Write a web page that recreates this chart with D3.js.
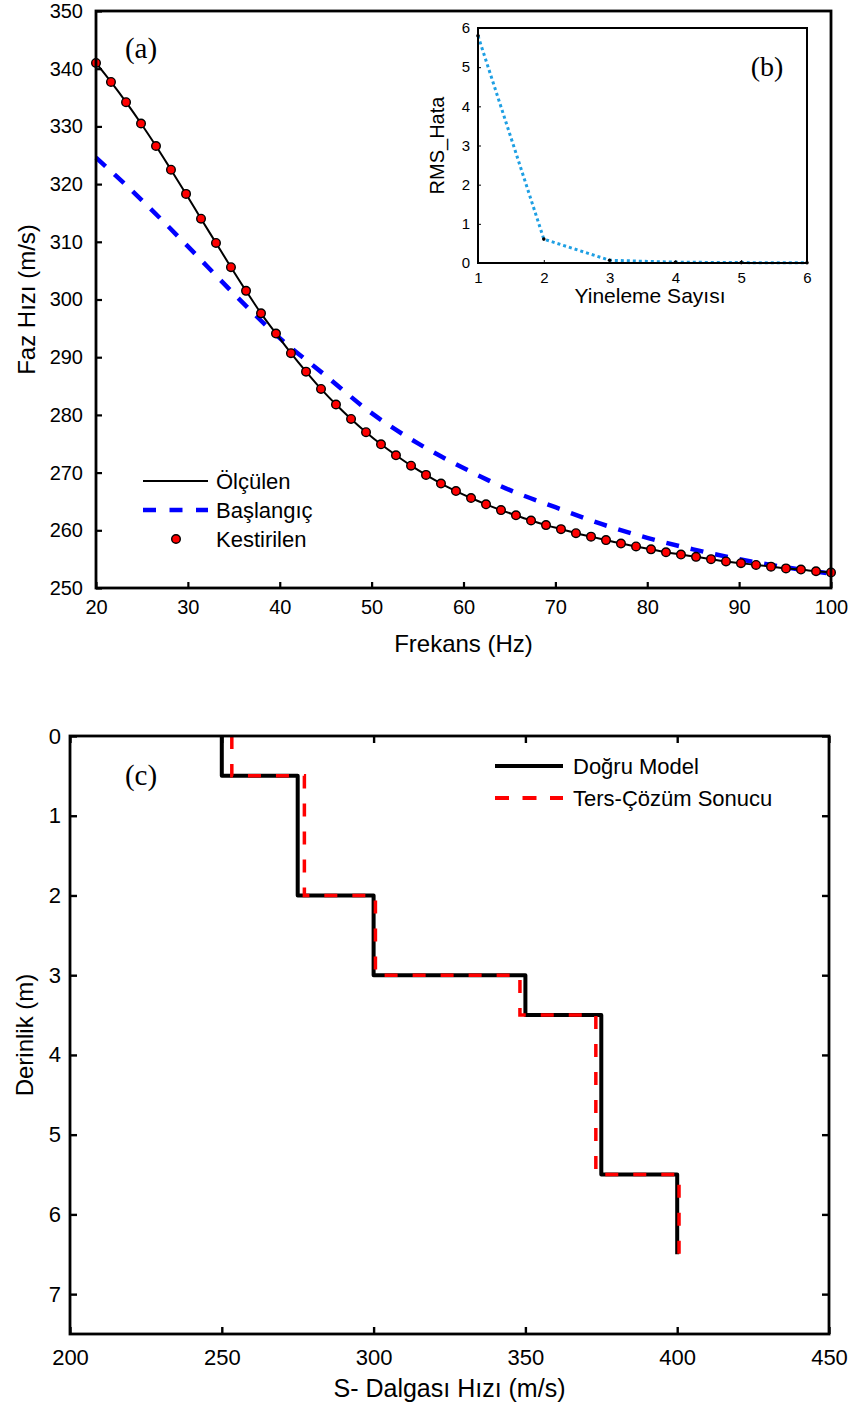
<!DOCTYPE html>
<html>
<head>
<meta charset="utf-8">
<script src="https://cdn.jsdelivr.net/npm/d3@7"></script>
<style>
  html, body { margin: 0; padding: 0; background: #fff; }
  svg { display: block; }
  text { font-family: "Liberation Sans", Arial, sans-serif; fill: #000; }
</style>
</head>
<body>
<svg id="fig" width="850" height="1406"></svg>
<script>
// ---- (a) dispersion curves ----
const freqHz = [20.00, 21.63, 23.27, 24.90, 26.53, 28.16, 29.80, 31.43, 33.06, 34.69,
                36.33, 37.96, 39.59, 41.22, 42.86, 44.49, 46.12, 47.76, 49.39, 51.02,
                52.65, 54.29, 55.92, 57.55, 59.18, 60.82, 62.45, 64.08, 65.71, 67.35,
                68.98, 70.61, 72.24, 73.88, 75.51, 77.14, 78.78, 80.41, 82.04, 83.67,
                85.31, 86.94, 88.57, 90.20, 91.84, 93.47, 95.10, 96.73, 98.37, 100.00];
const measuredVel = [341.0, 337.7, 334.2, 330.5, 326.6, 322.5, 318.3, 314.0, 309.8, 305.6,
                     301.5, 297.6, 294.1, 290.7, 287.5, 284.5, 281.8, 279.3, 277.0, 274.9,
                     273.0, 271.2, 269.6, 268.1, 266.8, 265.6, 264.5, 263.5, 262.6, 261.7,
                     260.9, 260.2, 259.5, 258.9, 258.3, 257.7, 257.2, 256.7, 256.2, 255.8,
                     255.4, 255.0, 254.6, 254.3, 254.0, 253.7, 253.4, 253.2, 252.9, 252.7];
const estimatedVel = [341.0, 337.7, 334.2, 330.5, 326.6, 322.5, 318.3, 314.0, 309.8, 305.6,
                      301.5, 297.6, 294.1, 290.7, 287.5, 284.5, 281.8, 279.3, 277.0, 274.9,
                      273.0, 271.2, 269.6, 268.1, 266.8, 265.6, 264.5, 263.5, 262.6, 261.7,
                      260.9, 260.2, 259.5, 258.9, 258.3, 257.7, 257.2, 256.7, 256.2, 255.8,
                      255.4, 255.0, 254.6, 254.3, 254.0, 253.7, 253.4, 253.2, 252.9, 252.7];
const initFreqHz = [20, 25, 30, 35, 40, 45, 50, 55, 60, 65, 70, 75, 80, 85, 90, 95, 100];
const initialVel = [324.6, 317.2, 309.2, 301.0, 293.3, 286.8, 280.3, 275.1, 270.8, 267.0,
                    264.0, 261.1, 258.7, 256.7, 255.0, 253.6, 252.5];
const freqTicks = [20, 30, 40, 50, 60, 70, 80, 90, 100];
const velTicks = [250, 260, 270, 280, 290, 300, 310, 320, 330, 340, 350];

// ---- (b) misfit per iteration ----
const iterations = [1, 2, 3, 4, 5, 6];
const rmsError = [5.8, 0.61, 0.07, 0.02, 0.01, 0.005];
const iterTicks = [1, 2, 3, 4, 5, 6];
const rmsTicks = [0, 1, 2, 3, 4, 5, 6];

// ---- (c) layered shear-wave velocity model ----
const layerBounds = [0, 0.5, 2, 3, 3.5, 5.5, 6.5];
const trueVs = [250, 275, 300, 350, 375, 400];
const invertedVs = [253.3, 277.2, 300.6, 348.2, 373.2, 400.6];
const vsTicks = [200, 250, 300, 350, 400, 450];
const depthTicks = [0, 1, 2, 3, 4, 5, 6, 7];

const svg = d3.select("#fig");
const intFmt = d3.format("d");

// ================= Panel (a) =================
const A = { left: 96, right: 831, top: 11, bottom: 588 };
const xA = d3.scaleLinear().domain([20, 100]).range([A.left, A.right]);
const yA = d3.scaleLinear().domain([250, 350]).range([A.bottom, A.top]);
const gA = svg.append("g");

gA.append("g").attr("transform", `translate(0,${A.bottom})`)
  .call(d3.axisBottom(xA).tickValues(freqTicks).tickFormat(intFmt)
        .tickSizeInner(-6).tickSizeOuter(0).tickPadding(12))
  .call(g => { g.select(".domain").remove();
               g.selectAll("line").attr("stroke-width", 2.2);
               g.selectAll("text").attr("font-size", 20); });
gA.append("g").attr("transform", `translate(${A.left},0)`)
  .call(d3.axisLeft(yA).tickValues(velTicks).tickFormat(intFmt)
        .tickSizeInner(-6).tickSizeOuter(0).tickPadding(13))
  .call(g => { g.select(".domain").remove();
               g.selectAll("line").attr("stroke-width", 2.2);
               g.selectAll("text").attr("font-size", 20); });

const plotA = gA.append("g");
plotA.append("path")
  .datum(initFreqHz.map((f, i) => [f, initialVel[i]]))
  .attr("fill", "none").attr("stroke", "#0000ff").attr("stroke-width", 4.5)
  .attr("stroke-dasharray", "13,12")
  .attr("d", d3.line().x(d => xA(d[0])).y(d => yA(d[1])).curve(d3.curveMonotoneX));
plotA.append("path")
  .datum(freqHz.map((f, i) => [f, measuredVel[i]]))
  .attr("fill", "none").attr("stroke", "#000").attr("stroke-width", 2)
  .attr("d", d3.line().x(d => xA(d[0])).y(d => yA(d[1])).curve(d3.curveMonotoneX));
plotA.selectAll("circle.est")
  .data(freqHz.map((f, i) => [f, estimatedVel[i]]))
  .join("circle").attr("class", "est")
  .attr("cx", d => xA(d[0])).attr("cy", d => yA(d[1])).attr("r", 4.3)
  .attr("fill", "#ff0000").attr("stroke", "#000").attr("stroke-width", 1.4);

gA.append("rect").attr("x", A.left).attr("y", A.top)
  .attr("width", A.right - A.left).attr("height", A.bottom - A.top)
  .attr("fill", "none").attr("stroke", "#000").attr("stroke-width", 2.8);

gA.append("text").attr("x", 141).attr("y", 58)
  .attr("text-anchor", "middle").attr("font-size", 29)
  .style("font-family", "'Liberation Serif', 'Times New Roman', serif").text("(a)");

gA.append("text").attr("x", (A.left + A.right) / 2).attr("y", 652)
  .attr("text-anchor", "middle").attr("font-size", 24).text("Frekans (Hz)");
gA.append("text").attr("transform", `translate(35,${(A.top + A.bottom) / 2}) rotate(-90)`)
  .attr("text-anchor", "middle").attr("font-size", 24).text("Faz Hızı (m/s)");

// legend (a)
const legA = gA.append("g");
legA.append("line").attr("x1", 143).attr("x2", 208).attr("y1", 481).attr("y2", 481)
  .attr("stroke", "#000").attr("stroke-width", 2);
legA.append("line").attr("x1", 143).attr("x2", 208).attr("y1", 510).attr("y2", 510)
  .attr("stroke", "#0000ff").attr("stroke-width", 4.5).attr("stroke-dasharray", "13,13.5");
legA.append("circle").attr("cx", 176).attr("cy", 539).attr("r", 4.3)
  .attr("fill", "#ff0000").attr("stroke", "#000").attr("stroke-width", 1.4);
[["Ölçülen", 481], ["Başlangıç", 510], ["Kestirilen", 539]].forEach(([t, y]) => {
  legA.append("text").attr("x", 216).attr("y", y + 8).attr("font-size", 22).text(t);
});

// ================= Panel (b) inset =================
const B = { left: 478, right: 807, top: 28, bottom: 263 };
const xB = d3.scaleLinear().domain([1, 6]).range([B.left, B.right]);
const yB = d3.scaleLinear().domain([0, 6]).range([B.bottom, B.top]);
const gB = svg.append("g");
gB.append("rect").attr("x", B.left).attr("y", B.top)
  .attr("width", B.right - B.left).attr("height", B.bottom - B.top)
  .attr("fill", "#fff");

gB.append("g").attr("transform", `translate(0,${B.bottom})`)
  .call(d3.axisBottom(xB).tickValues(iterTicks).tickFormat(intFmt)
        .tickSizeInner(-3).tickSizeOuter(0).tickPadding(9))
  .call(g => { g.select(".domain").remove();
               g.selectAll("text").attr("font-size", 15); });
gB.append("g").attr("transform", `translate(${B.left},0)`)
  .call(d3.axisLeft(yB).tickValues(rmsTicks).tickFormat(intFmt)
        .tickSizeInner(-3).tickSizeOuter(0).tickPadding(8))
  .call(g => { g.select(".domain").remove();
               g.selectAll("text").attr("font-size", 15); });

gB.append("path")
  .datum(iterations.map((it, i) => [it, rmsError[i]]))
  .attr("fill", "none").attr("stroke", "#1e9fe3").attr("stroke-width", 3)
  .attr("stroke-dasharray", "3,3")
  .attr("d", d3.line().x(d => xB(d[0])).y(d => yB(d[1])));
gB.selectAll("circle.rms")
  .data(iterations.map((it, i) => [it, rmsError[i]]))
  .join("circle").attr("class", "rms")
  .attr("cx", d => xB(d[0])).attr("cy", d => yB(d[1])).attr("r", 1.8).attr("fill", "#000");

gB.append("rect").attr("x", B.left).attr("y", B.top)
  .attr("width", B.right - B.left).attr("height", B.bottom - B.top)
  .attr("fill", "none").attr("stroke", "#000").attr("stroke-width", 2);

gB.append("text").attr("x", 767).attr("y", 76).attr("text-anchor", "middle")
  .attr("font-size", 28)
  .style("font-family", "'Liberation Serif', 'Times New Roman', serif").text("(b)");
gB.append("text").attr("x", 650).attr("y", 303)
  .attr("text-anchor", "middle").attr("font-size", 21).text("Yineleme Sayısı");
gB.append("text").attr("transform", `translate(444,${(B.top + B.bottom) / 2}) rotate(-90)`)
  .attr("text-anchor", "middle").attr("font-size", 20).text("RMS_Hata");

// ================= Panel (c) =================
const C = { left: 70, right: 829, top: 736, bottom: 1334 };
const xC = d3.scaleLinear().domain([200, 450]).range([C.left, C.right]);
const yC = d3.scaleLinear().domain([0, 7.5]).range([C.top, C.bottom]);
const gC = svg.append("g");

const styleAxis = g => { g.select(".domain").remove();
  g.selectAll("line").attr("stroke-width", 2.4);
  g.selectAll("text").attr("font-size", 22); };
gC.append("g").attr("transform", `translate(0,${C.bottom})`)
  .call(d3.axisBottom(xC).tickValues(vsTicks).tickFormat(intFmt)
        .tickSizeInner(-7).tickSizeOuter(0).tickPadding(15))
  .call(styleAxis);
gC.append("g").attr("transform", `translate(0,${C.top})`)
  .call(d3.axisTop(xC).tickValues(vsTicks).tickSizeInner(-7).tickSizeOuter(0).tickFormat(""))
  .call(styleAxis);
gC.append("g").attr("transform", `translate(${C.left},0)`)
  .call(d3.axisLeft(yC).tickValues(depthTicks).tickFormat(intFmt)
        .tickSizeInner(-7).tickSizeOuter(0).tickPadding(9))
  .call(styleAxis);
gC.append("g").attr("transform", `translate(${C.right},0)`)
  .call(d3.axisRight(yC).tickValues(depthTicks).tickSizeInner(-7).tickSizeOuter(0).tickFormat(""))
  .call(styleAxis);

function stepPoints(vs) {
  const pts = [];
  vs.forEach((v, i) => { pts.push([v, layerBounds[i]]); pts.push([v, layerBounds[i + 1]]); });
  return pts;
}
const stepLine = d3.line().x(d => xC(d[0])).y(d => yC(d[1]));
gC.append("path").datum(stepPoints(trueVs))
  .attr("fill", "none").attr("stroke", "#000").attr("stroke-width", 4)
  .attr("stroke-linejoin", "round").attr("d", stepLine);
gC.append("path").datum(stepPoints(invertedVs))
  .attr("fill", "none").attr("stroke", "#ff0000").attr("stroke-width", 3.5)
  .attr("stroke-dasharray", "13,15").attr("d", stepLine);

gC.append("rect").attr("x", C.left).attr("y", C.top)
  .attr("width", C.right - C.left).attr("height", C.bottom - C.top)
  .attr("fill", "none").attr("stroke", "#000").attr("stroke-width", 2.8);

gC.append("text").attr("x", 141).attr("y", 785).attr("text-anchor", "middle")
  .attr("font-size", 29)
  .style("font-family", "'Liberation Serif', 'Times New Roman', serif").text("(c)");

// legend (c)
gC.append("line").attr("x1", 495).attr("x2", 563).attr("y1", 766).attr("y2", 766)
  .attr("stroke", "#000").attr("stroke-width", 4);
gC.append("line").attr("x1", 495).attr("x2", 563).attr("y1", 798).attr("y2", 798)
  .attr("stroke", "#ff0000").attr("stroke-width", 4).attr("stroke-dasharray", "14,13.5");
gC.append("text").attr("x", 573).attr("y", 774).attr("font-size", 22).text("Doğru Model");
gC.append("text").attr("x", 573).attr("y", 806).attr("font-size", 22).text("Ters-Çözüm Sonucu");

gC.append("text").attr("x", (C.left + C.right) / 2).attr("y", 1397)
  .attr("text-anchor", "middle").attr("font-size", 25).text("S- Dalgası Hızı (m/s)");
gC.append("text").attr("transform", `translate(33,${(C.top + C.bottom) / 2}) rotate(-90)`)
  .attr("text-anchor", "middle").attr("font-size", 24).text("Derinlik (m)");
</script>
</body>
</html>
